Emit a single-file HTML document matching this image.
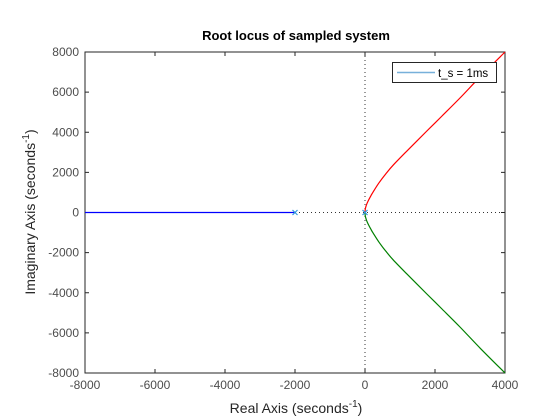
<!DOCTYPE html>
<html><head><meta charset="utf-8"><style>
body{margin:0;background:#fff}
svg{display:block;font-family:"Liberation Sans",sans-serif}
</style></head><body>
<svg id="chart" width="560" height="420">
<rect width="560" height="420" fill="#fff"/>
<g id="g"></g>
</svg>
<script>
const xTicks=[-8000,-6000,-4000,-2000,0,2000,4000];
const yTicks=[-8000,-6000,-4000,-2000,0,2000,4000,6000,8000];
const branchX=[0,5,20,50,100,170,237,400,600,810,1200,1760,2200,2710,3300,4000];
const branchY=[0,130,260,420,610,840,1040,1480,1940,2370,3070,4050,4810,5700,6780,8000];
const realBranchX=[-8000,-2000];
const polesX=[-2000,0];
const L=85,R=505,T=52,B=373;
const xs=v=>L+(v+8000)/12000*(R-L);
const ys=v=>B-(v+8000)/16000*(B-T);
const NS="http://www.w3.org/2000/svg";
const g=document.getElementById('g');
function mk(t,a,p){const e=document.createElementNS(NS,t);for(const k in a)e.setAttribute(k,a[k]);(p||g).appendChild(e);return e;}
function smooth(px,py){let d=`M${px[0]},${py[0]}`;for(let i=0;i<px.length-1;i++){const i0=Math.max(i-1,0),i3=Math.min(i+2,px.length-1);
const c1x=px[i]+(px[i+1]-px[i0])/6,c1y=py[i]+(py[i+1]-py[i0])/6,c2x=px[i+1]-(px[i3]-px[i])/6,c2y=py[i+1]-(py[i3]-py[i])/6;
d+=`C${c1x},${c1y} ${c2x},${c2y} ${px[i+1]},${py[i+1]}`;}return d;}
let e;
e=mk('text',{x:296,y:40,'text-anchor':'middle','font-size':13,'font-weight':'bold',fill:'#000'});e.textContent='Root locus of sampled system';


e=mk('line',{x1:xs(0),x2:xs(0),y1:T,y2:B,stroke:'#333','stroke-dasharray':'1,3','stroke-width':1});


e=mk('line',{x1:xs(-2000),x2:R,y1:ys(0),y2:ys(0),stroke:'#333','stroke-dasharray':'1,3','stroke-width':1});


e=mk('rect',{x:L,y:T,width:R-L,height:B-T,fill:'none',stroke:'#262626','stroke-width':1});


xTicks.forEach(v=>{const x=xs(v);
mk('line',{x1:x,x2:x,y1:B,y2:B-4,stroke:'#262626'});mk('line',{x1:x,x2:x,y1:T,y2:T+4,stroke:'#262626'});
e=mk('text',{x:x,y:B+16,'text-anchor':'middle','font-size':12,fill:'#4d4d4d'});e.textContent=v;

});
yTicks.forEach(v=>{const y=ys(v);
mk('line',{x1:L,x2:L+4,y1:y,y2:y,stroke:'#262626'});mk('line',{x1:R,x2:R-4,y1:y,y2:y,stroke:'#262626'});
e=mk('text',{x:79,y:y+4,'text-anchor':'end','font-size':12,fill:'#4d4d4d'});e.textContent=v;

});
e=mk('text',{x:296,y:413,'text-anchor':'middle','font-size':14,fill:'#262626'});
e.innerHTML='Real Axis (seconds<tspan dy="-6" font-size="10">-1</tspan><tspan dy="6">)</tspan>';


e=mk('text',{x:0,y:0,'text-anchor':'middle','font-size':14,fill:'#262626',transform:'translate(35,212) rotate(-90)'});
e.innerHTML='Imaginary Axis (seconds<tspan dy="-6" font-size="10">-1</tspan><tspan dy="6">)</tspan>';


e=mk('line',{x1:xs(realBranchX[0]),x2:xs(realBranchX[1]),y1:ys(0),y2:ys(0),stroke:'#0000ff','stroke-width':1.2});


const px=branchX.map(xs);
e=mk('path',{d:smooth(px,branchY.map(ys)),fill:'none',stroke:'#ff0000','stroke-width':1.2});


e=mk('path',{d:smooth(px,branchY.map(v=>ys(-v))),fill:'none',stroke:'#008000','stroke-width':1.2});


polesX.forEach(p=>{const x=xs(p),y=ys(0);
e=mk('path',{d:`M${x-2.5},${y-2.5}L${x+2.5},${y+2.5}M${x-2.5},${y+2.5}L${x+2.5},${y-2.5}`,stroke:'#3399dd','stroke-width':1.2});

});
const lg=mk('g',{});


mk('rect',{x:392.5,y:62.5,width:104,height:20,fill:'#fff',stroke:'#262626'},lg);
mk('line',{x1:397,x2:435,y1:72.5,y2:72.5,stroke:'#77b0da','stroke-width':1.5},lg);
e=mk('text',{x:438,y:77,'font-size':11.5,fill:'#000'},lg);e.textContent='t_s = 1ms';


</script>
</body></html>
